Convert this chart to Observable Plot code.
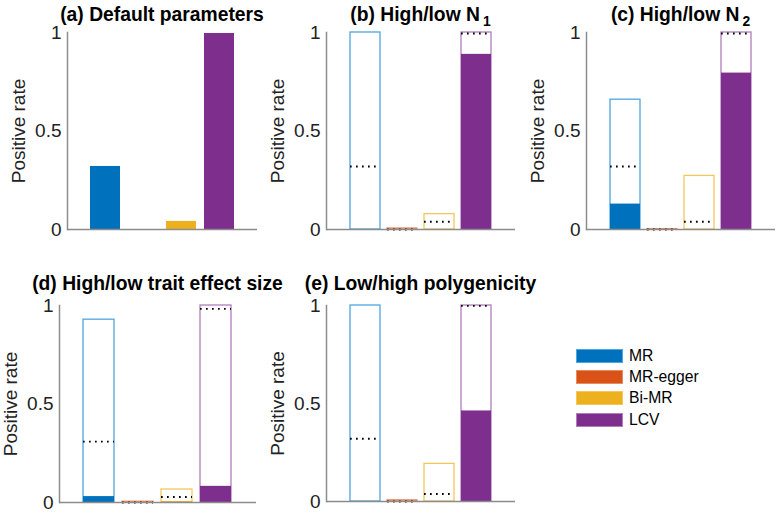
<!DOCTYPE html>
<html><head><meta charset="utf-8">
<script src="https://cdn.jsdelivr.net/npm/d3@7"></script>
<script src="https://cdn.jsdelivr.net/npm/@observablehq/plot@0.6"></script>
<style>
body{margin:0;background:#fff;}
#chart{position:relative;width:780px;height:513px;overflow:hidden;font-family:"Liberation Sans",Helvetica,Arial,sans-serif;color:#000;}
.panel{position:absolute;}
#chart svg text{font-size:19px !important;fill:#222;}
.title{position:absolute;font-weight:bold;font-size:19.3px;line-height:19px;text-align:center;white-space:nowrap;}
.title sub{font-size:0.72em;vertical-align:-5px;line-height:0;margin-left:3px;}
.legend{position:absolute;left:576px;top:348px;font-size:15.7px;}
.legend .row{display:flex;align-items:center;height:15px;margin-bottom:6.4px;}
.legend .sw{width:47px;height:14px;margin-right:6px;box-sizing:border-box;}
</style>
</head><body>
<div id="chart"></div>
<script>
// ---- data ----
const methods = ["MR", "MR-egger", "Bi-MR", "LCV"];
const fillColors = ["#0072BD", "#D95319", "#EDB120", "#7E2F8E"];
const outlineColors = ["#4fa6e0", "#ea8a63", "#f3c75c", "#b07dbd"];
const yTickValues = [0, 0.5, 1];
const yTickLabels = ["0", "0.5", "1"];
const yLabel = "Positive rate";

const titleA = "(a) Default parameters";
const titleB = ["(b) High/low N", "1"];
const titleC = ["(c) High/low N", "2"];
const titleD = "(d) High/low trait effect size";
const titleE = "(e) Low/high polygenicity";

// (a) default parameters
const defaultRate = [0.32, 0, 0.041, 0.995];
// (b) high / low N1
const highN1 = [1.0, 0.005, 0.078, 1.0];
const lowN1 = [0, 0, 0, 0.889];
const refN1 = [0.32, 0, 0.039, 0.995];
// (c) high / low N2
const highN2 = [0.659, 0.002, 0.272, 1.0];
const lowN2 = [0.129, 0, 0, 0.794];
const refN2 = [0.32, 0, 0.039, 0.995];
// (d) high / low trait effect size
const highEffect = [0.928, 0.004, 0.066, 1.0];
const lowEffect = [0.03, 0, 0.005, 0.082];
const refEffect = [0.309, 0, 0.028, 0.983];
// (e) low / high polygenicity
const highPoly = [1.0, 0.006, 0.192, 1.0];
const lowPoly = [0, 0, 0, 0.462];
const refPoly = [0.32, 0, 0.038, 0.998];

// ---- layout ----
const chart = document.getElementById("chart");
const font = '"Liberation Sans",Helvetica,Arial,sans-serif';

function makePanel({left, top, marginLeft, frameW, frameH, title, titleTop, high, low, ref}) {
  const marginTop = 32, marginRight = 4, marginBottom = 5;
  const rows = methods.map((m, j) => ({
    method: m,
    high: high ? high[j] : null,
    low: low[j],
    ref: ref ? ref[j] : null
  }));
  const marks = [];
  if (high) {
    marks.push(Plot.barY(rows, {
      x: "method", y1: 0, y2: "high", fill: "white",
      stroke: d => outlineColors[methods.indexOf(d.method)], strokeWidth: 1.3
    }));
  }
  marks.push(Plot.barY(rows, {x: "method", y1: 0, y2: "low", fill: "method"}));
  if (ref) {
    marks.push(Plot.tickY(rows, {
      x: "method", y: "ref", stroke: "#000", strokeWidth: 1.9,
      strokeDasharray: "1.7,4.3"
    }));
  }
  marks.push(Plot.ruleY([0], {stroke: "#8c8c8c", strokeWidth: 1.5}));
  marks.push(Plot.frame({anchor: "left", stroke: "#8c8c8c", strokeWidth: 1.5}));
  marks.push(Plot.axisY({
    ticks: yTickValues,
    tickFormat: v => yTickLabels[yTickValues.indexOf(v)],
    tickSize: 0, tickPadding: 6,
    label: yLabel, labelAnchor: "center", labelArrow: "none", labelOffset: 56
  }));
  const svg = Plot.plot({
    width: marginLeft + frameW + marginRight,
    height: marginTop + frameH + marginBottom,
    marginLeft, marginRight, marginTop, marginBottom,
    style: {fontFamily: font, fontSize: "19px", color: "#222", background: "transparent", overflow: "visible"},
    x: {type: "band", domain: methods, paddingInner: 0.2, paddingOuter: 0.6, align: 0.5, axis: null},
    y: {domain: [0, 1], axis: null},
    color: {domain: methods, range: fillColors},
    marks
  });
  const div = document.createElement("div");
  div.className = "panel";
  div.style.left = left + "px";
  div.style.top = top + "px";
  div.appendChild(svg);
  chart.appendChild(div);

  const t = document.createElement("div");
  t.className = "title";
  const cx = left + marginLeft + frameW / 2;
  t.style.left = (cx - 200) + "px";
  t.style.width = "400px";
  t.style.top = titleTop + "px";
  if (Array.isArray(title)) {
    t.textContent = title[0];
    const s = document.createElement("sub");
    s.textContent = title[1];
    t.appendChild(s);
  } else {
    t.textContent = title;
  }
  chart.appendChild(t);
}

makePanel({left: 0, top: 0, marginLeft: 67, frameW: 190, frameH: 197, title: titleA, titleTop: 4.8, high: null, low: defaultRate, ref: null});
makePanel({left: 260, top: 0, marginLeft: 66, frameW: 189, frameH: 197, title: titleB, titleTop: 4.8, high: highN1, low: lowN1, ref: refN1});
makePanel({left: 520, top: 0, marginLeft: 66, frameW: 189, frameH: 197, title: titleC, titleTop: 4.8, high: highN2, low: lowN2, ref: refN2});
makePanel({left: 0, top: 273, marginLeft: 59, frameW: 197, frameH: 197, title: titleD, titleTop: 273.5, high: highEffect, low: lowEffect, ref: refEffect});
makePanel({left: 260, top: 273, marginLeft: 66, frameW: 189, frameH: 196, title: titleE, titleTop: 273.5, high: highPoly, low: lowPoly, ref: refPoly});

// legend
const legend = document.createElement("div");
legend.className = "legend";
methods.forEach((m, j) => {
  const row = document.createElement("div");
  row.className = "row";
  const sw = document.createElement("div");
  sw.className = "sw";
  sw.style.background = fillColors[j];
  sw.style.border = "1px solid " + outlineColors[j];
  const lab = document.createElement("span");
  lab.textContent = m;
  row.appendChild(sw);
  row.appendChild(lab);
  legend.appendChild(row);
});
chart.appendChild(legend);
</script>
</body></html>
